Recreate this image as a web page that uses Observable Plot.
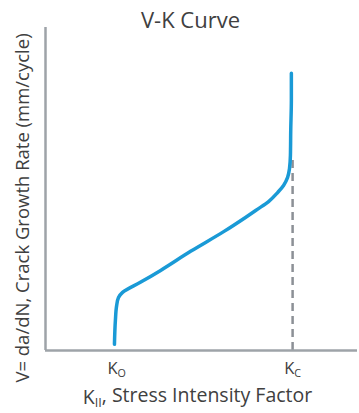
<!DOCTYPE html>
<html>
<head>
<meta charset="utf-8">
<script src="https://cdn.jsdelivr.net/npm/d3@7"></script>
<script src="https://cdn.jsdelivr.net/npm/@observablehq/plot@0.6"></script>
<style>
  html, body { margin: 0; padding: 0; background: #fff; }
  svg text { font-family: "Open Sans", sans-serif; }
</style>
</head>
<body>
<div id="chart"></div>
<script>
// Data (arbitrary units)
const title = "V-K Curve";
const xLabel = "K_II, Stress Intensity Factor";
const yLabel = "V= da/dN, Crack Growth Rate (mm/cycle)";
const tickValues = [22.8, 79.2];
const tickLabels = ["K_O", "K_C"];
const curveK = [22.1, 22.4, 22.8, 23.4, 24.7, 30.4, 36.9, 46.5, 57.1, 64.1, 67.9, 71.5, 74.4, 76.3, 77.6, 78.2, 78.5, 78.6, 78.8, 78.8];
const curveV = [1.9, 9.3, 13.9, 16.4, 18.0, 21.1, 24.8, 30.7, 36.8, 41.2, 43.7, 46.1, 48.9, 51.1, 53.6, 56.3, 60.4, 68.1, 77.4, 85.8];
const kc = 79.2;
const kcDashTop = 60.4;

const curve = curveK.map((k, i) => ({k, v: curveV[i]}));

const textColor = "#404040";
const axisColor = "#9ea3a8";

const plot = Plot.plot({
  width: 359,
  height: 413,
  marginTop: 27,
  marginBottom: 63,
  marginLeft: 45,
  marginRight: 2,
  style: {fontFamily: "Open Sans, sans-serif", color: textColor, background: "#fff"},
  x: {domain: [0, 100], label: null},
  y: {domain: [0, 100], label: null, axis: null},
  marks: [
    Plot.ruleX([kc], {y1: 0, y2: kcDashTop, stroke: "#8c9096", strokeWidth: 2.5, strokeDasharray: "8,5"}),
    Plot.line(curve, {x: "k", y: "v", stroke: "#1a9ad6", strokeWidth: 3.5, curve: "monotone-y", strokeLinecap: "round"}),
    Plot.ruleY([0], {stroke: axisColor, strokeWidth: 2.5}),
    Plot.ruleX([0], {stroke: axisColor, strokeWidth: 2.5}),
    Plot.axisX(tickValues, {
      tickSize: 0, tickPadding: 12, fontSize: 16.5, fill: textColor,
      tickFormat: (d, i) => tickLabels[i], label: null
    }),
    Plot.text([xLabel], {frameAnchor: "bottom", lineAnchor: "middle", dy: 47, dx: -4, fontSize: 19.5, fill: textColor}),
    Plot.text([yLabel], {frameAnchor: "left", textAnchor: "middle", lineAnchor: "middle", rotate: -90, dx: -22, dy: 19, fontSize: 18.5, fill: textColor}),
    Plot.text([title], {frameAnchor: "top", lineAnchor: "middle", dy: -7, dx: -11, fontSize: 22, fill: textColor})
  ]
});

document.getElementById("chart").appendChild(plot);

// subscripts
d3.select(plot).selectAll("text").each(function() {
  const t = d3.select(this);
  const tspans = t.selectAll("tspan");
  const nodes = tspans.empty() ? [this] : tspans.nodes();
  nodes.forEach(n => {
    const s = n.textContent;
    const m = s.match(/^K_(\w+)(.*)$/);
    if (m) {
      const el = d3.select(n);
      el.text(null);
      el.append("tspan").text("K");
      el.append("tspan").attr("font-size", "0.65em").attr("dy", "0.25em").text(m[1]);
      if (m[2]) el.append("tspan").attr("dy", "-0.25em").text(m[2]);
    }
  });
});
</script>
</body>
</html>
